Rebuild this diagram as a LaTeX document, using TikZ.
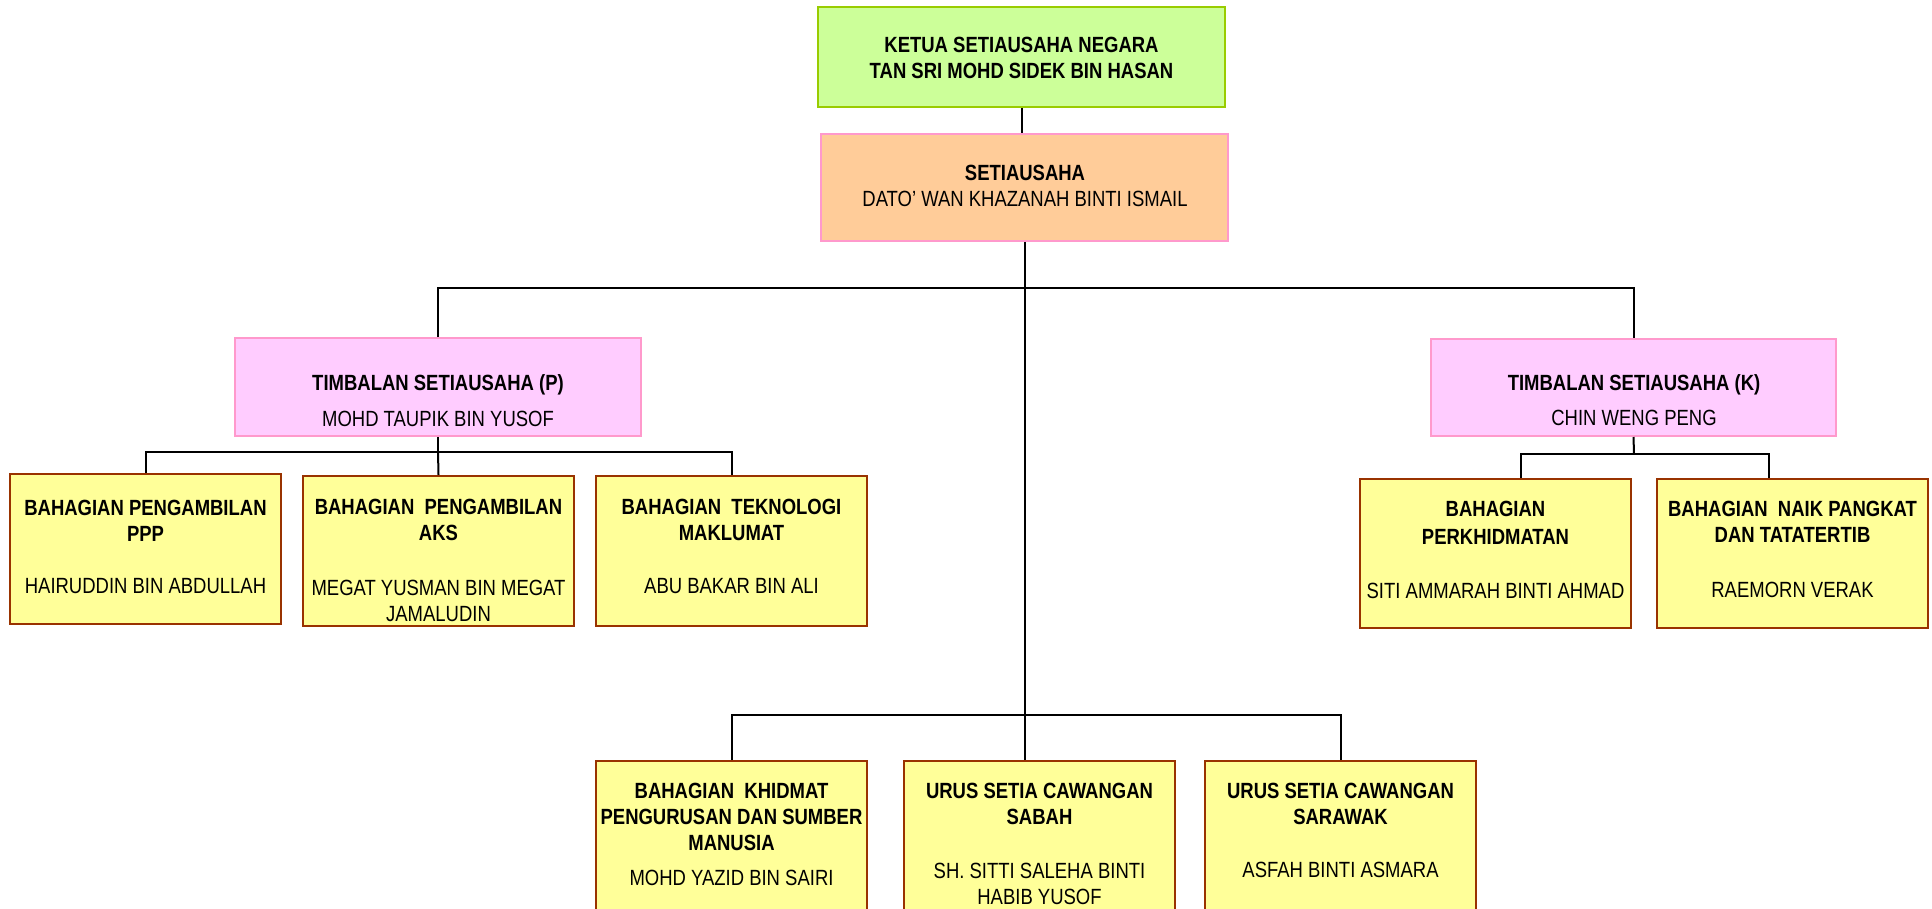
\documentclass[tikz,border=0pt]{standalone}
\usepackage{fontspec}
\setmainfont{Liberation Sans}[FakeStretch=0.84]
\usepackage{xcolor}
\usetikzlibrary{calc}

\definecolor{ketuafill}{HTML}{CCFF99}
\definecolor{ketualine}{HTML}{99CC00}
\definecolor{setiafill}{HTML}{FFCC99}
\definecolor{pinkline}{HTML}{FF99CC}
\definecolor{timfill}{HTML}{FFCCFF}
\definecolor{bahfill}{HTML}{FFFF99}
\definecolor{bahline}{HTML}{993300}

\begin{document}
\begin{tikzpicture}[x=0.5pt, y=-0.5pt,
    box/.style={draw, line width=1pt, inner sep=0pt},
    bah/.style={box, fill=bahfill, draw=bahline, minimum width=135.5pt},
    txt/.style={font=\fontsize{11}{13}\selectfont, align=center, inner sep=0pt, anchor=north},
    conn/.style={line width=1pt}]
    \useasboundingbox (0,0) rectangle (1932,909);
    \clip (0,0) rectangle (1932,909);

    % pengurusan atasan
    \node[box, fill=ketuafill, draw=ketualine, minimum width=203.5pt, minimum height=50pt] (ketua) at (1021.5,57) {};
    \node[box, fill=setiafill, draw=pinkline, minimum width=203.5pt, minimum height=53.5pt] (setia) at (1024.5,187.5) {};
    \node[box, fill=timfill, draw=pinkline, minimum width=203pt, minimum height=49pt] (timP) at (438,387) {};
    \node[box, fill=timfill, draw=pinkline, minimum width=202.5pt, minimum height=48.5pt] (timK) at (1633.5,387.5) {};

    \node[txt] (ketuaT) at (1021.5,36.7) {\textbf{KETUA SETIAUSAHA NEGARA}\\\textbf{TAN SRI MOHD SIDEK BIN HASAN}};
    \node[txt] (setiaT) at (1025,164.3) {\textbf{SETIAUSAHA}\\DATO’ WAN KHAZANAH BINTI ISMAIL};
    \node[txt] (timPT) at (438,374.3) {\textbf{TIMBALAN SETIAUSAHA (P)}\\[4.85pt]MOHD TAUPIK BIN YUSOF};
    \node[txt] (timKT) at (1634,374.3) {\textbf{TIMBALAN SETIAUSAHA (K)}\\[4.5pt]CHIN WENG PENG};

    % bahagian bawah TSU (P)
    \node[bah, minimum height=75pt] (ppp) at (145.5,549) {};
    \node[bah, minimum height=75pt] (aks) at (438.5,551) {};
    \node[bah, minimum height=75pt] (tek) at (731.5,551) {};
    \node[txt] (pppT) at (145.5,499.5) {\textbf{BAHAGIAN PENGAMBILAN}\\\textbf{PPP}\\[13.3pt]HAIRUDDIN BIN ABDULLAH};
    \node[txt] (aksT) at (438.5,499) {\textbf{BAHAGIAN\ \ PENGAMBILAN}\\\textbf{AKS}\\[14.5pt]MEGAT YUSMAN BIN MEGAT\\JAMALUDIN};
    \node[txt] (tekT) at (731.5,498.3) {\textbf{BAHAGIAN\ \ TEKNOLOGI}\\\textbf{MAKLUMAT}\\[13.5pt]ABU BAKAR BIN ALI};

    % bahagian bawah TSU (K)
    \node[bah, minimum height=74.5pt] (perk) at (1495.5,553.5) {};
    \node[bah, minimum height=74.5pt] (naik) at (1792.5,553.5) {};
    \node[txt] (perkT) at (1495.5,501) {\textbf{BAHAGIAN}\\[0.65pt]\textbf{PERKHIDMATAN}\\[14pt]SITI AMMARAH BINTI AHMAD};
    \node[txt] (naikT) at (1792.5,501) {\textbf{BAHAGIAN\ \ NAIK PANGKAT}\\\textbf{DAN TATATERTIB}\\[14.3pt]RAEMORN VERAK};

    % bahagian bawah SU
    \node[bah, anchor=north, minimum height=85pt] (khid) at (731.5,760) {};
    \node[bah, anchor=north, minimum height=85pt] (sabah) at (1039.5,760) {};
    \node[bah, anchor=north, minimum height=85pt] (sarawak) at (1340.5,760) {};
    \node[txt] (khidT) at (731.5,782.3) {\textbf{BAHAGIAN\ \ KHIDMAT}\\\textbf{PENGURUSAN DAN SUMBER}\\\textbf{MANUSIA}\\[4.5pt]MOHD YAZID BIN SAIRI};
    \node[txt] (sabahT) at (1039.5,782.3) {\textbf{URUS SETIA CAWANGAN}\\\textbf{SABAH}\\[14pt]SH. SITTI SALEHA BINTI\\HABIB YUSOF};
    \node[txt] (sarawakT) at (1340.5,782.3) {\textbf{URUS SETIA CAWANGAN}\\\textbf{SARAWAK}\\[13.5pt]ASFAH BINTI ASMARA};

    % garisan penghubung
    \coordinate (jA) at (1025,288);
    \coordinate (jP) at (438,452);
    \coordinate (jK) at (1634,454);
    \coordinate (jB) at (1025,715);

    \draw[conn] (ketua.south) -- (ketua.south |- setia.north);
    \draw[conn] (setia.south) -- (setia.south |- sabah.north);
    \draw[conn] (timP.north) |- (jA) -| (timK.north);

    \draw[conn] (timP.south) -- (jP);
    \draw[conn] (ppp.north) |- (jP) -| (tek.north);
    \draw[conn] (jP) -- (aks.north);

    \draw[conn] (timK.south) -- (jK);
    \draw[conn] ($(perk.north)+(25.5,0)$) |- (jK) -| ($(naik.north)+(-23.5,0)$);

    \draw[conn] (khid.north) |- (jB) -| (sarawak.north);
\end{tikzpicture}
\end{document}
